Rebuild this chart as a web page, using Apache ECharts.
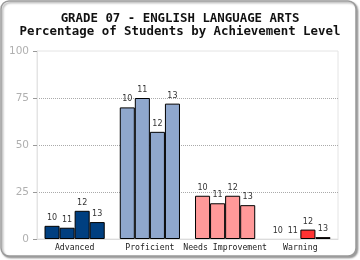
<!DOCTYPE html>
<html><head><meta charset="utf-8">
<script src="https://cdn.jsdelivr.net/npm/echarts@6/dist/echarts.min.js"></script>
<style>html,body{margin:0;padding:0;background:#fff}#c{width:360px;height:260px}</style>
</head><body><div id="c"></div>
<script>
const categories = ['Advanced', 'Proficient', 'Needs Improvement', 'Warning'];
const years = ['10', '11', '12', '13'];
const y10 = [7, 70, 23, 0];
const y11 = [6, 75, 19, 0];
const y12 = [15, 57, 23, 5];
const y13 = [9, 72, 18, 1];
const yTicks = [0, 25, 50, 75, 100];
const catColors = ['#003f80', '#8fa7cd', '#ff9999', '#ff3333'];

const seriesValues = [y10, y11, y12, y13];
const chart = echarts.init(document.getElementById('c'));
chart.setOption({
  animation: false,
  backgroundColor: '#fff',
  title: {
    text: 'GRADE 07 - ENGLISH LANGUAGE ARTS\nPercentage of Students by Achievement Level',
    left: 'center', top: 7,
    textStyle: { fontFamily: 'DejaVu Sans Mono', fontWeight: 'bold', fontSize: 12.4, color: '#111', lineHeight: 13 }
  },
  graphic: [{
    type: 'rect', z: -1,
    shape: { x: 1, y: 1, width: 355, height: 255, r: 8 },
    style: { fill: '#fff', stroke: '#9a9a9a', lineWidth: 1.5, shadowBlur: 2, shadowOffsetX: 1.5, shadowOffsetY: 1.5, shadowColor: 'rgba(0,0,0,0.35)' }
  }],
  grid: { left: 37, right: 22, top: 51, bottom: 21, show: true, borderColor: '#e4e4e4', borderWidth: 1 },
  xAxis: {
    type: 'category', data: categories,
    axisLine: { lineStyle: { color: '#dcdcdc' } },
    axisTick: { show: false },
    axisLabel: { interval: 0, fontFamily: 'DejaVu Sans Mono', fontSize: 8.2, color: '#222', margin: 5 }
  },
  yAxis: {
    type: 'value', min: 0, max: 100, interval: 25,
    axisLine: { show: true, lineStyle: { color: '#e4e4e4' } },
    axisTick: { show: true, length: 4, lineStyle: { color: '#999' } },
    axisLabel: { fontFamily: 'DejaVu Sans', fontSize: 10.5, color: '#b0b0b0', margin: 8,
      formatter: v => yTicks.includes(v) ? String(v) : '' },
    splitLine: { lineStyle: { type: [1, 1], color: ['transparent', '#aaa', '#aaa', '#aaa', 'transparent'] } }
  },
  series: years.map((y, i) => ({
    type: 'bar', name: y,
    barGap: '0%', barCategoryGap: '20%',
    data: seriesValues[i].map((v, j) => ({ value: v, itemStyle: { color: catColors[j], borderWidth: v === 0 ? 0 : 1 } })),
    itemStyle: { borderColor: '#000', borderWidth: 1 },
    label: { show: true, position: 'top', distance: 4, formatter: '{a}', fontFamily: 'DejaVu Sans', fontSize: 8, color: '#333' }
  }))
});
</script></body></html>
